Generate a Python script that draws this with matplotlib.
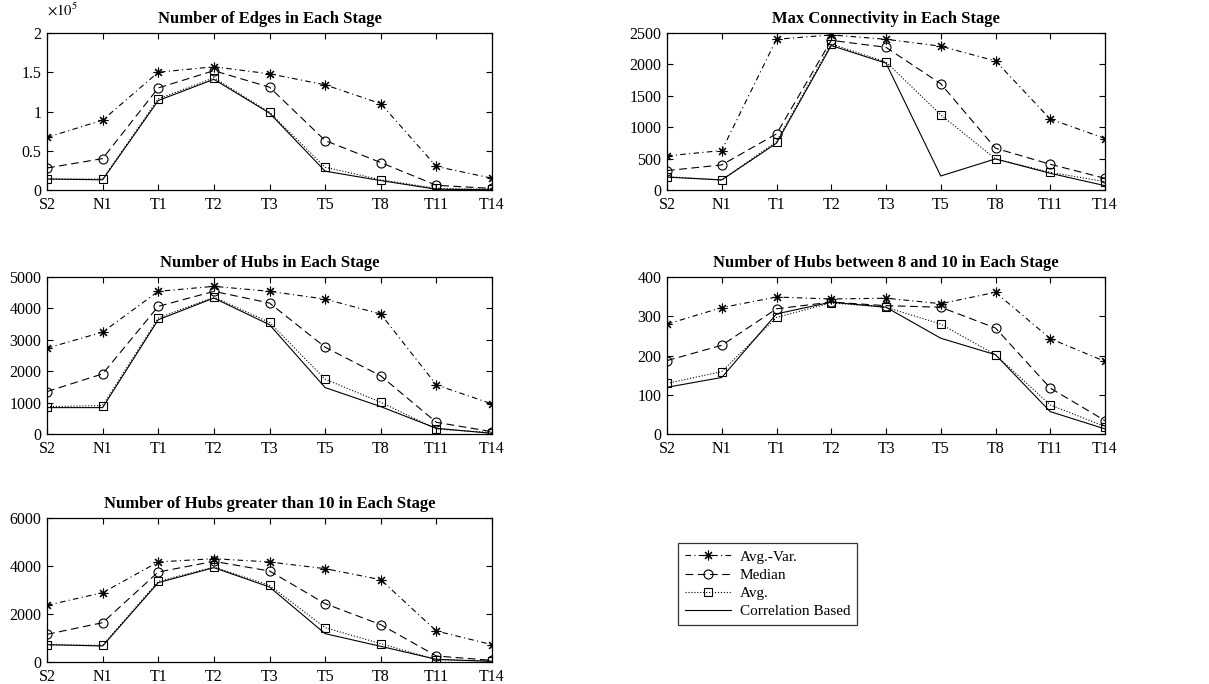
import matplotlib
matplotlib.use("Agg")
import matplotlib.pyplot as plt
import numpy as np

plt.rcParams['font.family'] = ['Liberation Serif', 'DejaVu Serif']
plt.rcParams['mathtext.fontset'] = 'stix'

stages = ["S2", "N1", "T1", "T2", "T3", "T5", "T8", "T11", "T14"]
series_names = ["Avg.-Var.", "Median", "Avg.", "Correlation Based"]

# Number of edges (raw counts)
edges_avgvar = [67000, 89000, 150000, 157000, 148000, 134000, 110000, 30000, 15000]
edges_median = [28000, 40000, 130000, 152000, 131000, 63000, 35000, 6000, 2000]
edges_avg = [14000, 14000, 116000, 143000, 99000, 29000, 13000, 2000, 1000]
edges_corr = [14000, 13000, 114000, 141000, 98000, 24000, 12000, 1000, 300]

# Max connectivity
maxc_avgvar = [543, 628, 2400, 2470, 2400, 2290, 2055, 1130, 820]
maxc_median = [309, 399, 894, 2383, 2272, 1692, 665, 410, 186]
maxc_avg = [213, 160, 771, 2325, 2038, 1197, 495, 282, 133]
maxc_corr = [205, 160, 745, 2300, 2020, 223, 495, 266, 69]

# Number of hubs
hubs_avgvar = [2734, 3245, 4543, 4703, 4543, 4298, 3820, 1564, 958]
hubs_median = [1351, 1915, 4064, 4543, 4171, 2766, 1851, 372, 74]
hubs_avg = [872, 904, 3692, 4362, 3554, 1745, 1011, 160, 43]
hubs_corr = [840, 840, 3640, 4330, 3480, 1479, 872, 181, 21]

# Number of hubs between 8 and 10
h810_avgvar = [280, 322, 349, 344, 346, 332, 361, 243, 185]
h810_median = [187, 226, 319, 336, 327, 323, 270, 117, 34]
h810_avg = [129, 159, 297, 334, 323, 280, 202, 74, 19]
h810_corr = [119, 144, 306, 336, 323, 244, 202, 57, 13]

# Number of hubs greater than 10
hg10_avgvar = [2361, 2889, 4167, 4306, 4167, 3889, 3431, 1292, 722]
hg10_median = [1153, 1639, 3750, 4194, 3792, 2431, 1556, 250, 69]
hg10_avg = [722, 694, 3361, 3958, 3194, 1431, 764, 97, 28]
hg10_corr = [722, 667, 3306, 3931, 3125, 1181, 653, 111, 28]

titles = ["Number of Edges in Each Stage",
          "Max Connectivity in Each Stage",
          "Number of Hubs in Each Stage",
          "Number of Hubs between 8 and 10 in Each Stage",
          "Number of Hubs greater than 10 in Each Stage"]

W, H = 1209, 684
fig = plt.figure(figsize=(W / 100, H / 100), dpi=100)

def rect(l, t, r, b):
    return [l / W, 1 - b / H, (r - l) / W, (b - t) / H]

axes_rects = [rect(47, 33, 492, 190), rect(667, 33, 1105, 190),
              rect(47, 277, 492, 434), rect(667, 277, 1105, 434),
              rect(47, 518, 492, 662)]

data = [
    ([np.array(edges_avgvar) / 1e5, np.array(edges_median) / 1e5,
      np.array(edges_avg) / 1e5, np.array(edges_corr) / 1e5], (0, 2), [0, 0.5, 1, 1.5, 2], ["0", "0.5", "1", "1.5", "2"]),
    ([maxc_avgvar, maxc_median, maxc_avg, maxc_corr], (0, 2500), [0, 500, 1000, 1500, 2000, 2500], None),
    ([hubs_avgvar, hubs_median, hubs_avg, hubs_corr], (0, 5000), [0, 1000, 2000, 3000, 4000, 5000], None),
    ([h810_avgvar, h810_median, h810_avg, h810_corr], (0, 400), [0, 100, 200, 300, 400], None),
    ([hg10_avgvar, hg10_median, hg10_avg, hg10_corr], (0, 6000), [0, 2000, 4000, 6000], None),
]

styles = [
    dict(linestyle='-.', marker=(8, 2, 0), markersize=7, markerfacecolor='k',
         dashes=(5, 3, 1, 3)),
    dict(linestyle='--', marker='o', markersize=6.5, markerfacecolor='none', dashes=(7, 4)),
    dict(linestyle=':', marker='s', markersize=6, markerfacecolor='none'),
    dict(linestyle='-', marker=None),
]

x = np.arange(len(stages))
handles = []
for i, (r, (series, ylim, yticks, ylabels)) in enumerate(zip(axes_rects, data)):
    ax = fig.add_axes(r)
    for s, st, name in zip(series, styles, series_names):
        h, = ax.plot(x, s, color='k', linewidth=0.8, markeredgewidth=0.8, label=name, **st)
        if i == 0:
            handles.append(h)
    ax.set_xlim(0, len(stages) - 1)
    ax.set_ylim(*ylim)
    ax.set_xticks(x)
    ax.set_xticklabels(stages)
    ax.set_yticks(yticks)
    if ylabels is not None:
        ax.set_yticklabels(ylabels)
    ax.tick_params(direction='in', top=True, right=True, length=4, width=0.8,
                   labelsize=11.5)
    ax.tick_params(axis='x', pad=5)
    ax.tick_params(axis='y', pad=4)
    for sp in ax.spines.values():
        sp.set_linewidth(0.9)
    ax.set_title(titles[i], fontsize=12, fontweight='bold', pad=7)
    if i == 0:
        ax.text(0.0, 1.09, r'$\times 10^5$', transform=ax.transAxes, fontsize=10.5,
                ha='left', va='bottom')

leg = fig.legend(handles=handles, labels=series_names, loc='upper left',
                 bbox_to_anchor=(678 / W, 1 - 543 / H), borderaxespad=0,
                 fontsize=11, frameon=True, fancybox=False, edgecolor='k',
                 handlelength=3.0, handletextpad=0.6, labelspacing=0.3,
                 borderpad=0.45)
leg.get_frame().set_linewidth(0.9)

fig.savefig("out.png", dpi=100)
